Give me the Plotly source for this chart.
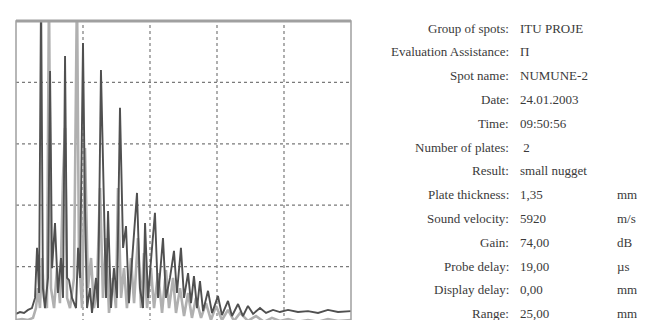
import plotly.graph_objects as go

# --- A-scan data: depth (mm) and echo amplitude (% screen height) ---
dark_x = [0, 0.3, 0.6, 0.9, 1.19, 1.42, 1.57, 1.72, 1.87, 2.01, 2.16, 2.39, 2.54, 2.69, 2.91,
          3.13, 3.36, 3.51, 3.66, 3.81, 3.96, 4.18, 4.48, 4.63, 4.78, 5.0, 5.15, 5.3, 5.52,
          5.67, 5.97, 6.12, 6.34, 6.57, 6.72, 6.87, 7.09, 7.31, 7.54, 7.76, 7.99, 8.21, 8.43,
          8.73, 9.03, 9.25, 9.48, 9.63, 9.85, 10.15, 10.37, 10.6, 10.82, 10.97, 11.19, 11.49,
          11.79, 12.01, 12.31, 12.54, 12.84, 13.06, 13.28, 13.51, 13.73, 13.96, 14.33, 14.63,
          15.07, 15.37, 15.82, 16.12, 16.57, 16.94, 17.31, 17.69, 18.21, 18.66, 19.18, 19.7,
          20.3, 21.04, 21.79, 22.54, 23.28, 24.03, 25.0]
dark_y = [4.6, 5.2, 4.9, 5.9, 6.5, 9.8, 26.1, 11.4, 110, 13.0, 6.5, 16.3, 83.7, 19.5, 34.2,
          11.4, 22.8, 9.8, 88.6, 16.3, 15.6, 9.8, 6.5, 26.1, 16.3, 92.8, 39.1, 6.5, 13.0,
          4.9, 16.3, 6.5, 84.0, 39.1, 9.8, 38.1, 6.5, 19.5, 9.8, 71.7, 26.1, 33.2, 8.1,
          26.1, 44.0, 13.0, 6.5, 34.2, 9.8, 26.1, 37.5, 9.8, 22.8, 29.3, 9.8, 16.3,
          25.1, 11.4, 26.1, 9.8, 17.9, 8.1, 16.9, 6.5, 15.3, 5.5, 12.1, 4.9,
          10.4, 4.2, 8.8, 3.9, 7.8, 3.9, 7.2, 4.6, 6.5, 4.9, 5.9, 5.2,
          5.9, 5.2, 5.5, 4.9, 5.9, 5.2, 5.5]

light_x = [0, 0.45, 0.9, 1.27, 1.49, 1.64, 1.79, 1.94, 2.09, 2.31, 2.46, 2.61, 2.84, 3.06,
           3.28, 3.51, 3.66, 3.81, 4.03, 4.33, 4.55, 4.7, 4.93, 5.15, 5.37, 5.6, 5.82, 6.04,
           6.27, 6.49, 6.72, 6.94, 7.24, 7.46, 7.61, 7.84, 8.06, 8.28, 8.58, 8.81, 9.1, 9.33,
           9.55, 9.78, 10.07, 10.3, 10.6, 10.9, 11.19, 11.42, 11.72, 11.94, 12.24, 12.54,
           12.84, 13.13, 13.43, 13.81, 14.18, 14.55, 14.93, 15.37, 15.82, 16.27, 16.72,
           17.31, 17.91, 18.51, 19.1, 19.7, 20.3, 21.04, 21.79, 22.54, 23.28, 24.03, 25.0]
light_y = [2.6, 2.9, 2.6, 3.3, 6.5, 13.0, 6.5, 22.8, 9.8, 6.5, 110, 13.0, 6.5, 19.5,
           8.1, 48.9, 65.1, 9.8, 6.5, 16.3, 110, 22.8, 6.5, 58.6, 13.0, 22.8, 6.5, 13.0,
           45.6, 9.8, 29.3, 4.9, 16.3, 6.5, 45.6, 9.8, 19.5, 6.5, 22.8, 8.1, 29.3, 6.5,
           24.4, 6.5, 19.5, 6.5, 17.9, 4.9, 18.9, 6.5, 16.3, 4.9, 13.0, 3.9,
           11.4, 3.3, 9.8, 3.3, 8.1, 2.6, 7.2, 2.6, 5.9, 2.3, 4.9,
           2.3, 3.9, 2.0, 3.3, 2.3, 2.9, 2.0, 2.6, 2.0, 2.9, 2.3, 2.6]

# --- measurement protocol text ---
labels = ["Group of spots:", "Evaluation Assistance:", "Spot name:", "Date:", "Time:",
          "Number of plates:", "Result:", "Plate thickness:", "Sound velocity:", "Gain:",
          "Probe delay:", "Display delay:", "Range:"]
values = ["ITU PROJE", "Π", "NUMUNE-2", "24.01.2003", "09:50:56", " 2", "small nugget",
          "1,35", "5920", "74,00", "19,00", "0,00", "25,00"]
units = ["", "", "", "", "", "", "", "mm", "m/s", "dB", "µs", "mm", "mm"]

x_grid = [5, 10, 15, 20]
y_grid = [20, 40, 60, 80]

W, H = 645, 320
ML, MR, MT, MB = 8, 302, 13, 0
PW, PH = W - ML - MR, H - MT - MB

fig = go.Figure()
fig.add_trace(go.Scatter(x=light_x, y=light_y, mode="lines",
                         line=dict(color="#b0b0b0", width=2.6), hoverinfo="skip"))
fig.add_trace(go.Scatter(x=dark_x, y=dark_y, mode="lines",
                         line=dict(color="#505050", width=1.9), hoverinfo="skip"))

shapes = []
for gx in x_grid:
    shapes.append(dict(type="line", xref="x", yref="paper", x0=gx, x1=gx, y0=0, y1=1,
                       line=dict(color="#7a7a7a", width=1.2, dash="dot"), layer="below"))
for gy in y_grid:
    shapes.append(dict(type="line", xref="paper", yref="y", x0=0, x1=1, y0=gy, y1=gy,
                       line=dict(color="#7a7a7a", width=1.2, dash="dot"), layer="below"))
shapes.append(dict(type="rect", xref="paper", yref="paper", x0=0, x1=1, y0=0, y1=1,
                   line=dict(color="#a0a0a0", width=1.5)))
shapes.append(dict(type="line", xref="paper", yref="paper", x0=0, x1=1, y0=1, y1=1,
                   line=dict(color="#a0a0a0", width=3)))

annotations = []
font = dict(family="Liberation Serif", size=13, color="#3a3a3a")
def px2paper_x(px):
    return (px - ML) / PW
def py2paper_y(py):
    return (H - MB - py) / PH
for i, (lab, val, un) in enumerate(zip(labels, values, units)):
    py = 20 + i * 23.8
    annotations.append(dict(text=lab, xref="paper", yref="paper", x=px2paper_x(503),
                            y=py2paper_y(py), xanchor="right", yanchor="middle",
                            showarrow=False, font=font))
    annotations.append(dict(text=val, xref="paper", yref="paper", x=px2paper_x(510),
                            y=py2paper_y(py), xanchor="left", yanchor="middle",
                            showarrow=False, font=font))
    if un:
        annotations.append(dict(text=un, xref="paper", yref="paper", x=px2paper_x(607),
                                y=py2paper_y(py), xanchor="left", yanchor="middle",
                                showarrow=False, font=font))

fig.update_layout(
    width=W, height=H,
    margin=dict(l=ML, r=MR, t=MT, b=MB, pad=0),
    paper_bgcolor="white", plot_bgcolor="white",
    showlegend=False,
    xaxis=dict(range=[0, 25], showgrid=False, zeroline=False, showticklabels=False,
               ticks="", showline=False, fixedrange=True),
    yaxis=dict(range=[0, 100], showgrid=False, zeroline=False, showticklabels=False,
               ticks="", showline=False, fixedrange=True),
    shapes=shapes,
    annotations=annotations,
)

fig.write_html("out.html", config={"displayModeBar": False})
